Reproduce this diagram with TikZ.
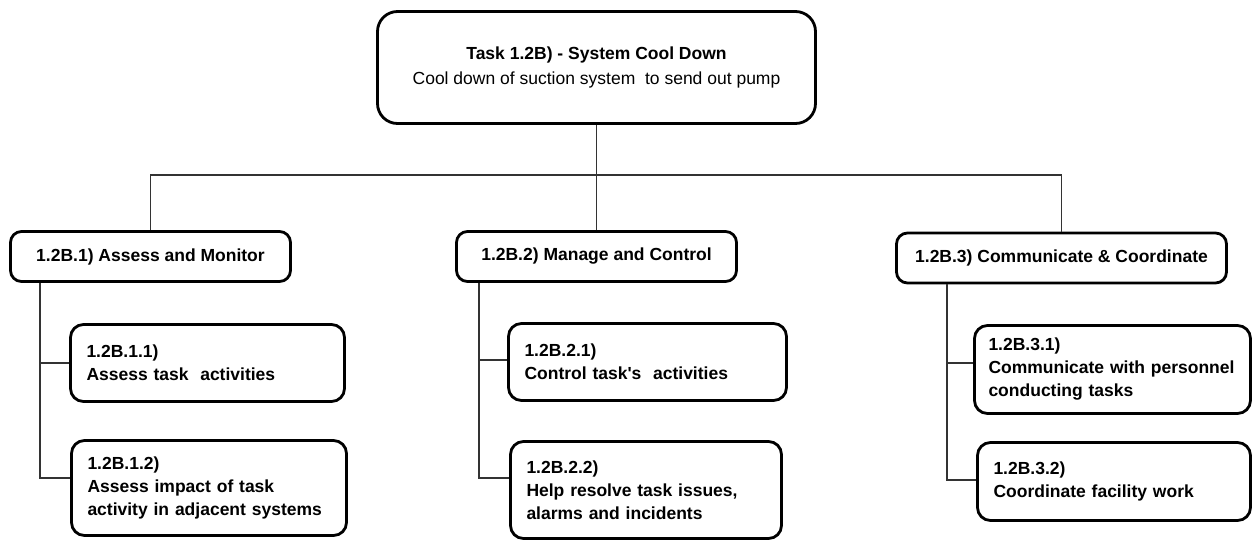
\documentclass[tikz,border=0pt]{standalone}
\usepackage{fontspec}
\setmainfont{Liberation Sans}
\begin{document}
\begin{tikzpicture}[x=1pt,y=-1pt,
  box/.style={draw=black,line width=2.8pt,fill=white,inner sep=0pt,
    font=\fontsize{17.5}{23}\selectfont\bfseries},
  topbox/.style={box,rounded corners=20pt,align=center,
    font=\fontsize{17.5}{24.5}\selectfont},
  groupbox/.style={box,rounded corners=11pt,minimum height=50pt},
  leafbox/.style={box,rounded corners=13pt,align=left},
  conn/.style={draw=black!80,line width=1.2pt}]
\useasboundingbox (0,0) rectangle (1254,542);

% root task
\node[topbox,minimum width=438pt,minimum height=112pt] (top) at (596.5,67.5)
  {\textbf{Task 1.2B) - System Cool Down}\\[1pt]Cool down of suction system\ \ to send out pump};

% second level
\node[groupbox,minimum width=280pt] (b1) at (150.5,256.5) {1.2B.1) Assess and Monitor};
\node[groupbox,minimum width=280pt] (b2) at (596.5,256.5) {1.2B.2) Manage and Control};
\node[groupbox,minimum width=330pt] (b3) at (1061.5,258) {1.2B.3) Communicate \& Coordinate};

% leaves
\node[leafbox,minimum width=274pt,text width=242pt,minimum height=77pt] (c11) at (207.5,363)
  {1.2B.1.1)\\Assess task\ \ activities};
\node[leafbox,minimum width=275pt,text width=243pt,minimum height=95pt] (c12) at (209,488)
  {1.2B.1.2)\\Assess impact of task\\activity in adjacent systems};
\node[leafbox,minimum width=278pt,text width=246pt,minimum height=77pt] (c21) at (647.5,362)
  {1.2B.2.1)\\Control task\textquotesingle s\ \ activities};
\node[leafbox,minimum width=271pt,text width=239pt,minimum height=97pt] (c22) at (646,490)
  {1.2B.2.2)\\Help resolve task issues,\\alarms and incidents};
\node[leafbox,minimum width=276pt,text width=248pt,minimum height=88pt] (c31) at (1112.5,369.5)
  {1.2B.3.1)\\Communicate with personnel\\conducting tasks};
\node[leafbox,minimum width=273pt,text width=241pt,minimum height=78pt] (c32) at (1114,481.5)
  {1.2B.3.2)\\Coordinate facility work};

% bus from the root to the groups
\coordinate (bus) at (0,175);
\draw[conn] (top.south) -- (b2.north);
\draw[conn] (b1.north) -- (b1.north |- bus) -- (b3.north |- bus) -- (b3.north);

% group to leaf trees
\coordinate (t1) at (40,0);
\coordinate (t2) at (479,0);
\coordinate (t3) at (947,0);
\draw[conn] (t1 |- b1.south) |- (c11.west);
\draw[conn] (t1 |- b1.south) |- ([yshift=10pt]c12.west);
\draw[conn] (t2 |- b2.south) |- ([yshift=2pt]c21.west);
\draw[conn] (t2 |- b2.south) |- ([yshift=12pt]c22.west);
\draw[conn] (t3 |- b3.south) |- ([yshift=6.5pt]c31.west);
\draw[conn] (t3 |- b3.south) |- ([yshift=1.5pt]c32.west);
\end{tikzpicture}
\end{document}
